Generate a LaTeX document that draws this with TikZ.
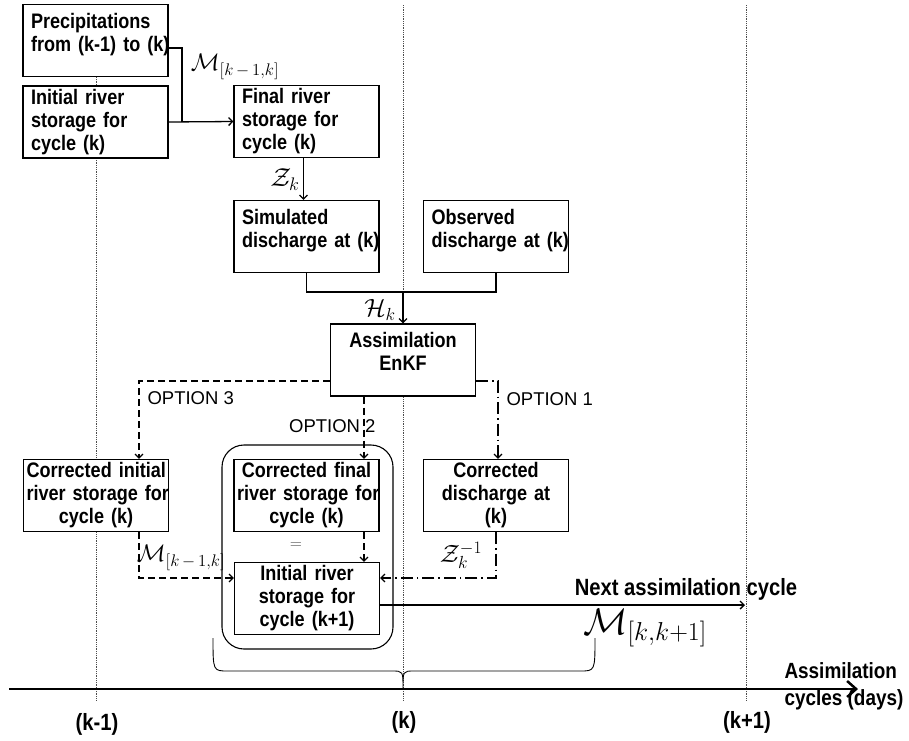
\RequirePackage{fix-cm}
\documentclass[tikz,border=0pt]{standalone}
\usepackage{fontspec}
\setmainfont{Liberation Sans}[BoldFeatures={FakeStretch=0.86}]
\usetikzlibrary{arrows.meta, positioning}
\tikzset{x=1pt, y=-1pt, >={Straight Barb[length=4pt, width=8pt]}}

\begin{document}
\begin{tikzpicture}
% Style
[
    line cap=butt,
    box/.style={draw, fill=white, line width=1.1pt, inner sep=0pt,
        minimum width=145, minimum height=72,
        execute at begin node={\hyphenpenalty=10000 \exhyphenpenalty=10000},
        font=\bfseries\fontsize{21}{23}\selectfont},
    left box/.style={box, text width=129, align=left},
    centre box/.style={box, text width=139, align=center},
    group box/.style={draw, line width=1.1pt, rounded corners=22pt,
        minimum width=171, minimum height=204},
    flow/.style={line width=1.3pt},
    option dash/.style={flow, dash pattern=on 7pt off 4pt},
    option dashdot/.style={flow, dash pattern=on 12pt off 4pt on 1.5pt off 4pt},
    cycle line/.style={densely dotted, line width=0.8pt, black!70},
    math label/.style={inner sep=0pt, font=\fontsize{24}{26}\selectfont},
    option label/.style={font=\fontsize{18.5}{20}\selectfont},
    axis label/.style={font=\bfseries\fontsize{23.5}{27}\selectfont}
]
\useasboundingbox (0,0) rectangle (909,740);

%================================== Prepare ==================================
% Draw: Cycle lines
\foreach \t in {96, 403, 746} {
    \draw [cycle line] (\t,5) -- (\t,701);
}

% Draw: Forecast boxes
\node [left box] (prec)  at (95.5,40.5)  {Precipitations\\from~(k-1)~to~(k)\\[-6pt]\mbox{}};
\node [left box] (init)  at (95.5,122)   {Initial river\\storage for\\cycle (k)};
\node [left box] (final) at (306.5,121.5) {Final river\\storage for\\cycle (k)};
\node [left box] (sim)   at (306.5,236.5) {Simulated\\discharge~at~(k)\\[-6pt]\mbox{}};
\node [left box] (obs)   at (496,236.5)   {Observed\\discharge~at~(k)\\[-6pt]\mbox{}};
\node [centre box] (assim) at (403,360)  {Assimilation\\EnKF\\[-6pt]\mbox{}};

% Draw: Analysis boxes
\node [group box] (group) at (307.5,547) {};
\node [centre box] (corrinit)  at (96,495.5)    {Corrected~initial\\river~storage~for\\cycle (k)};
\node [centre box] (corrfinal) at (306.5,495.5) {Corrected~final\\river~storage~for\\cycle (k)};
\node [centre box] (corrdis)   at (496,495.5)   {Corrected\\discharge at\\(k)};
\node [centre box] (initnext)  at (307,598.5)   {Initial river\\storage for\\cycle (k+1)};
\node [font=\fontsize{16}{18}\selectfont, black!70] (equal) at (296,546) {$=$};

%=================================== Start ===================================
{
    % Draw: Model step
    \coordinate (join) at (182,122);
    \draw [flow] ([yshift=-7.5pt]prec.east) -| (join);
    \draw [flow, ->] (init.east) -- (final.west);
    \node [math label] (mstep) at (235,67) {$\mathcal{M}_{[k\,-\,1,k]}$};

    \draw [flow, ->] ([xshift=-3pt]final.south) -- ([xshift=-3pt]sim.north);
    \node [math label, font=\fontsize{26}{28}\selectfont] (zstep) at (285,180) {$\mathcal{Z}_k$};

    % Draw: Observation operator
    \coordinate (hjoin) at (403,292);
    \draw [flow] (sim.south) |- (hjoin) -| (obs.south);
    \draw [flow, ->] (hjoin) -- (assim.north);
    \node [math label, font=\fontsize{25}{27}\selectfont] (hstep) at (380,310) {$\mathcal{H}_k$};

    % Draw: Options
    \draw [option dash, ->] ([yshift=-21pt]assim.west) -| ([xshift=43pt]corrinit.north);
    \node [option label, anchor=west] (opt3) at (144,398) {OPTION 3};
    \draw [option dash, ->] ([xshift=-39pt]assim.south) -- ([xshift=-39pt]assim.south |- corrfinal.north);
    \node [option label, anchor=east] (opt2) at (379,426) {OPTION 2};
    \draw [option dashdot, ->] ([yshift=-21pt]assim.east) -| ([xshift=2pt]corrdis.north);
    \node [option label, anchor=west] (opt1) at (503,399) {OPTION 1};

    % Draw: Back to the initial storage
    \draw [option dash, ->] ([xshift=57.5pt]corrfinal.south) -- ([xshift=57.5pt]corrfinal.south |- initnext.north);
    \draw [option dash, ->] ([xshift=43pt]corrinit.south) |- ([yshift=20.5pt]initnext.west);
    \node [math label] (mback) at (181,558) {$\mathcal{M}_{[k\,-\,1,k]}$};
    \draw [option dashdot, ->] (corrdis.south) |- ([yshift=20.5pt]initnext.east);
    \node [math label, font=\fontsize{25}{27}\selectfont] (zback) at (461,555) {$\mathcal{Z}_k^{-1}$};

    % Draw: Next cycle
    \coordinate (nextend) at (745,605);
    \draw [line width=1.4pt, ->] ([yshift=-6.5pt]initnext.east) -- (nextend);
    \node [axis label] (nextlbl) at (686,589) {Next assimilation cycle};
    \node [math label, font=\fontsize{37}{40}\selectfont] (mnext) at (645,628) {$\mathcal{M}_{[k,k+1]}$};

    % Draw: Brace
    \draw [line width=0.9pt] (213,638) .. controls (213,671) .. (228,671) -- (392,671)
        .. controls (403,671) .. (403,688) .. controls (403,671) .. (414,671)
        -- (580,671) .. controls (595,671) .. (595,638);

    % Define: Axis
    \coordinate (axisstart) at (9,689);
    \coordinate (axisend) at (858,689);
    \draw [line width=2.5pt, -{Straight Barb[length=9pt, width=16pt]}] (axisstart) -- (axisend);
    \node [axis label, font=\bfseries\fontsize{22}{27}\selectfont, anchor=west, align=left]
        (axislbl) at (781,686) {Assimilation\\cycles (days)};
    \node [axis label] (kprev) at (97,724) {(k-1)};
    \node [axis label] (kcur)  at (404,722) {(k)};
    \node [axis label] (knext) at (747,722) {(k+1)};
}
%==================================== END ====================================
\end{tikzpicture}
\end{document}
